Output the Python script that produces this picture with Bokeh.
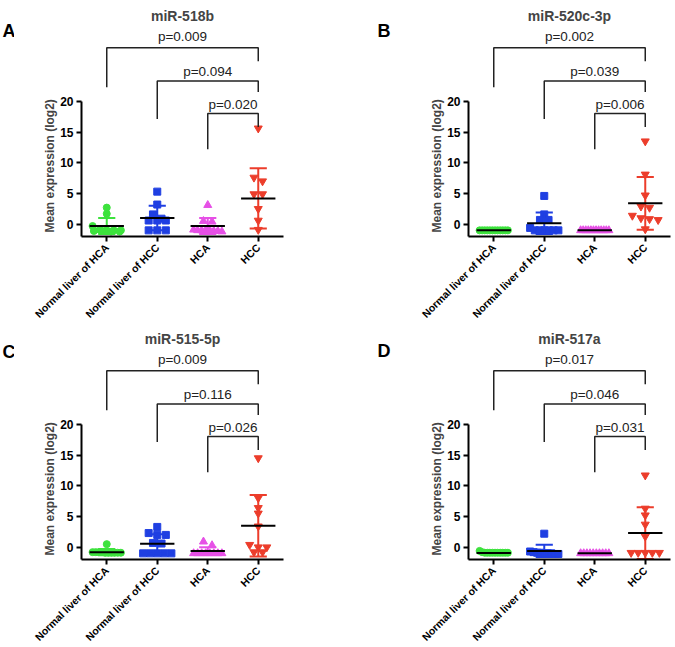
import math
import numpy as np
from bokeh.plotting import figure
from bokeh.models import FixedTicker, Label, Title
from bokeh.core.properties import value
from bokeh.layouts import column, row
from bokeh.embed import file_html
from bokeh.resources import INLINE

# ---------------- data ----------------
categories = ["Normal liver of HCA", "Normal liver of HCC", "HCA", "HCC"]
titles = ["miR-518b", "miR-520c-3p", "miR-515-5p", "miR-517a"]
letters = ["A", "B", "C", "D"]
y_ticks = [0, 5, 10, 15, 20]
y_label = "Mean expression (log2)"

a_pvals = ["p=0.009", "p=0.094", "p=0.020"]
b_pvals = ["p=0.002", "p=0.039", "p=0.006"]
c_pvals = ["p=0.009", "p=0.116", "p=0.026"]
d_pvals = ["p=0.017", "p=0.046", "p=0.031"]

a_nl_hca = [2.7, 1.7, -0.3, -0.9, -1.0, -1.0, -1.0, -1.1, -1.1, -1.2, -1.2]
a_nl_hcc = [5.3, 3.2, 1.6, 0.9, 0.6, 0.6, 0.6, -1.0, -1.0, -1.0]
a_hca = [3.1, 0.5, 0.4, -0.9, -1.0, -1.0, -1.0, -1.0, -1.1, -1.1, -1.2]
a_hcc = [15.6, 7.6, 7.0, 4.9, 4.9, 2.5, 0.6, -0.9]
a_mean = [-0.3, 1.0, -0.3, 4.2]
a_sd = [1.3, 2.0, 1.3, 4.9]

b_nl_hca = [-1.0, -1.0, -1.0, -1.0, -1.0, -1.0, -1.0, -1.0, -1.0, -1.0, -1.0, -1.0]
b_nl_hcc = [4.6, 1.6, 0.7, 0.7, -0.6, -1.0, -1.0, -1.0, -1.0, -1.0, -1.0]
b_hca = [-1.0, -1.0, -1.0, -1.0, -1.0, -1.0, -1.0, -1.0, -1.0, -1.0, -1.0, -1.0]
b_hcc = [13.5, 8.1, 4.7, 2.9, 2.7, 1.4, 1.0, 0.85, 0.7, -0.8]
b_mean = [-1.0, 0.15, -1.0, 3.4]
b_sd = [0.05, 1.75, 0.05, 4.3]

c_nl_hca = [0.5, -0.8, -0.8, -0.8, -0.8, -0.9, -0.9, -0.9, -0.9, -0.9, -0.9]
c_nl_hcc = [3.3, 2.3, 2.0, 2.0, 0.7, 0.6, -1.0, -1.0, -1.0, -1.0, -1.0]
c_hca = [0.9, 0.3, -1.0, -1.0, -1.0, -1.0, -1.0, -1.0, -1.0, -1.0]
c_hcc = [14.5, 8.0, 6.4, 5.5, 3.4, 0.4, 0.0, 0.0, -0.8, -0.8]
c_mean = [-0.8, 0.55, -0.6, 3.5]
c_sd = [0.5, 1.55, 0.6, 5.0]

d_nl_hca = [-0.6, -0.8, -0.9, -0.9, -0.9, -0.9, -0.9, -0.9, -0.9, -0.9, -0.9, -0.9]
d_nl_hcc = [2.2, -0.7, -0.8, -0.9, -0.9, -1.0, -1.0, -1.0, -1.1, -1.1]
d_hca = [-1.0, -1.0, -1.0, -1.0, -1.0, -1.0, -1.0, -1.0, -1.0, -1.0]
d_hcc = [11.7, 6.3, 5.2, 3.7, 1.75, -0.9, -0.9, -0.9, -0.9, -0.9]
d_mean = [-0.95, -0.6, -1.0, 2.3]
d_sd = [0.1, 1.0, 0.05, 4.2]

# ---------------- style ----------------
FONT = "Liberation Sans"
colors = ["#3de23d", "#1f3fe2", "#e650e6", "#ec3d2b"]
markers = ["circle", "square", "triangle", "inverted_triangle"]
msizes = [7, 7, 8, 8]
cat_x = [0.5, 1.5, 2.5, 3.5]
Y_TOP = 35.1
brackets = [(28.7, 22.3, 26.5, 30.6), (23.3, 17.1, 21.5, 24.9), (18.0, 12.2, 15.8, 19.5)]
bracket_left = [0.5, 1.5, 2.5]


def swarm(vals, step=0.17, maxw=0.56, tol=0.8):
    order = np.argsort(-np.asarray(vals), kind="stable")
    offs = np.zeros(len(vals))
    groups = []
    for i in order:
        if groups and vals[groups[-1][0]] - vals[i] < tol:
            groups[-1].append(i)
        else:
            groups.append([i])
    for g in groups:
        n = len(g)
        if n == 1:
            continue
        tot = min((n - 1) * step, maxw)
        pos = np.linspace(-tot / 2, tot / 2, n)
        for k, i in enumerate(g):
            offs[i] = pos[k]
    return offs


def letter_fig(letter, width, height, lx, ly):
    f = figure(width=width, height=height, x_range=(0, width), y_range=(height, 0),
               x_axis_location=None, y_axis_location=None,
               min_border=0, output_backend="svg", toolbar_location=None)
    f.outline_line_color = None
    f.grid.visible = False
    f.text(x=[lx], y=[ly], text=[letter], text_font=value(FONT), text_font_style="bold",
           text_font_size="18px", text_align="left", text_baseline="middle", text_color="black")
    return f


def make_panel(title, groups, means, sds, pvals, left, right, top, bottom):
    width = left + 202 + right
    height = top + 228 + bottom
    p = figure(width=width, height=height, frame_width=202, frame_height=228,
               x_range=(0, 4), y_range=(-2, Y_TOP),
               min_border_left=left, min_border_right=right,
               min_border_top=top, min_border_bottom=bottom,
               output_backend="svg", toolbar_location=None)
    p.outline_line_color = None
    p.xgrid.visible = False
    p.ygrid.visible = False

    yax = p.yaxis[0]
    yax.ticker = FixedTicker(ticks=y_ticks)
    yax.bounds = (-2, 20)
    yax.axis_line_width = 2
    yax.major_tick_line_width = 2
    yax.major_tick_out = 5
    yax.major_tick_in = 0
    yax.minor_tick_line_color = None
    yax.major_label_text_font = FONT
    yax.major_label_text_font_style = "bold"
    yax.major_label_text_font_size = "12px"
    yax.major_label_text_color = "black"
    yax.major_label_standoff = 3

    xax = p.xaxis[0]
    xax.ticker = FixedTicker(ticks=cat_x)
    xax.major_label_overrides = {cx: c for cx, c in zip(cat_x, categories)}
    xax.major_label_orientation = math.pi / 4
    xax.axis_line_width = 2
    xax.major_tick_line_width = 2
    xax.major_tick_out = 5
    xax.major_tick_in = 0
    xax.minor_tick_line_color = None
    xax.major_label_text_font = FONT
    xax.major_label_text_font_style = "bold"
    xax.major_label_text_font_size = "10.5px"
    xax.major_label_text_color = "black"
    xax.major_label_standoff = 4

    for gi, vals in enumerate(groups):
        offs = swarm(vals)
        xs = [cat_x[gi] + o for o in offs]
        p.scatter(xs, vals, marker=markers[gi], size=msizes[gi],
                  fill_color=colors[gi], line_color=colors[gi])
    for gi in range(4):
        cx, m, s = cat_x[gi], means[gi], sds[gi]
        p.segment([cx], [m - s], [cx], [m + s], line_color=colors[gi], line_width=2)
        p.segment([cx - 0.17, cx - 0.17], [m - s, m + s], [cx + 0.17, cx + 0.17], [m - s, m + s],
                  line_color=colors[gi], line_width=2)
        p.segment([cx - 0.34], [m], [cx + 0.34], [m], line_color="black", line_width=2)

    for bi, (btop, lb, rb, ty) in enumerate(brackets):
        xl = bracket_left[bi]
        p.line([xl, xl, 3.5, 3.5], [lb, btop, btop, rb], line_color="#222222", line_width=1.5)
        p.add_layout(Label(x=(xl + 3.5) / 2, y=ty, text=pvals[bi], text_align="center",
                           text_baseline="middle", text_font=FONT, text_font_size="13.5px",
                           text_color="#222222"))

    p.add_layout(Label(x=2.0, y=33.8, text=title, text_align="center", text_baseline="middle",
                       text_font=FONT, text_font_style="bold", text_font_size="14px"))
    p.add_layout(Title(text=y_label, align="left", offset=4, standoff=1,
                       text_font=FONT, text_font_style="bold", text_font_size="12px"),
                 "left")
    return p


H1, H2 = 331, 316
lA = letter_fig(letters[0], 14, H1, 2, 33)
pA = make_panel(titles[0], [a_nl_hca, a_nl_hcc, a_hca, a_hcc], a_mean, a_sd, a_pvals, 67, 65, 8, 95)
lB = letter_fig(letters[1], 47, H1, 29, 33)
pB = make_panel(titles[1], [b_nl_hca, b_nl_hcc, b_hca, b_hcc], b_mean, b_sd, b_pvals, 73, 4, 8, 95)
lC = letter_fig(letters[2], 14, H2, 2, 29)
pC = make_panel(titles[2], [c_nl_hca, c_nl_hcc, c_hca, c_hcc], c_mean, c_sd, c_pvals, 67, 65, 0, 88)
lD = letter_fig(letters[3], 47, H2, 29, 28)
pD = make_panel(titles[3], [d_nl_hca, d_nl_hcc, d_hca, d_hcc], d_mean, d_sd, d_pvals, 73, 4, 0, 88)

layout = column(row(lA, pA, lB, pB), row(lC, pC, lD, pD))
open("out.html", "w").write(file_html(layout, INLINE))
